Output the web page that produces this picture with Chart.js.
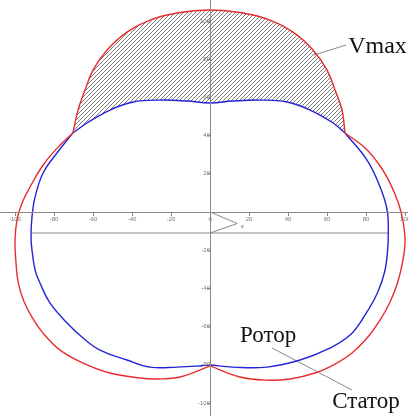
<!DOCTYPE html>
<html>
<head>
<meta charset="utf-8">
<script src="https://cdn.jsdelivr.net/npm/chart.js@4.4.0/dist/chart.umd.min.js"></script>
<style>
  html, body { margin:0; padding:0; background:#fff; }
  #wrap { position:relative; width:408px; height:416px; }
</style>
</head>
<body>
<div id="wrap"><canvas id="chartHodograph"></canvas></div>
<script>
// Годограф статора и ротора (x, y)
const statorTop = [
  [-70.3, 41.4], [-67.7, 53.4], [-64.1, 63.9], [-60, 74.3], [-52.8, 84.8], [-42.6, 94.2],
  [-30.8, 100.5], [-16.9, 104.2], [0, 105.8], [16.9, 104.2], [30.8, 100.5], [42.6, 94.2],
  [52.8, 84.8], [60, 74.3], [64.1, 63.9], [67.7, 53.4], [69.2, 41.4]
];
const statorRight = [
  [69.2, 41.4], [79.5, 33.5], [87.2, 24.1], [92.8, 14.1], [96.9, 3.7], [99, -5.2], [100, -15.7],
  [98.7, -26.2], [96.1, -37.2], [92.3, -47.1], [87.2, -56.5], [80.5, -66], [72.8, -73.8],
  [64.1, -79.6], [53.8, -84.3], [41, -87.4], [28.2, -88], [15.4, -86.4], [0, -80.6]
];
const statorLeft = [
  [0, -80.6], [-15.4, -86.4], [-27.2, -87.4], [-35.9, -86.9], [-51.3, -84.3], [-65.1, -79.1],
  [-76.9, -72.3], [-85.6, -63.4], [-91.3, -55], [-95.4, -46.8], [-98.3, -37.2], [-99.6, -25.1],
  [-100, -14.7], [-99, -4.2], [-96.4, 4.7], [-92.3, 13.1], [-85.6, 24.6], [-77.9, 34], [-70.3, 41.4]
];
const rotorTop = [
  [-70.3, 41.4], [-63.1, 46.6], [-51.3, 53.4], [-39.5, 57.6], [-25.6, 58.6], [-11.8, 58.1],
  [0, 57.1], [11.8, 58.1], [25.6, 58.6], [39.5, 57.6], [51.3, 53.4], [63.1, 46.6], [69.2, 41.4]
];
const rotorRight = [
  [69.2, 41.4], [80.5, 27.2], [87.2, 13.1], [90.8, 1], [91.4, -11], [91, -20.5], [89.5, -31.4],
  [85.8, -42.4], [79.5, -53.9], [71.8, -64.4], [60.5, -71.7], [46.2, -77.5], [29.2, -81.2],
  [11.8, -81.2], [0, -80.1]
];
const rotorLeft = [
  [0, -80.1], [-5.1, -80.6], [-16.9, -81.2], [-30.8, -81.2], [-42.6, -77.5], [-56.4, -72.3],
  [-65.1, -66], [-73.3, -58.1], [-82.1, -47.6], [-87.2, -37.2], [-89.7, -30.4], [-91.3, -19.9],
  [-91.8, -13.1], [-91.3, -2.6], [-89.7, 7.9], [-85.6, 20.4], [-78.5, 30.9], [-70.3, 41.4]
];
// эксцентриситет и линия центра ротора
const eccentricity = [[0, 0], [14, -6], [0, -11]];
const rotorChord = [[-91.8, -11], [91.4, -11]];
// выноски подписей
const leaderVmax = [[53.3, 82.2], [69.7, 87.4]];
const leaderRotor = [[31.8, -71.2], [72.8, -93.2]];
const tickValues = [-100, -80, -60, -40, -20, 0, 20, 40, 60, 80, 100];
const captions = [
  { text: 'Vmax', at: [70.8, 83.2] },
  { text: 'Ротор', at: [15.4, -68] },
  { text: 'Статор', at: [62.6, -102.6] }
];
const eLabel = { text: 'e', at: [15.9, -8.4] };

const pts = a => a.map(([x, y]) => ({ x, y }));

// штриховка области Vmax
function hatch() {
  const c = document.createElement('canvas');
  c.width = 4; c.height = 4;
  const g = c.getContext('2d');
  g.fillStyle = '#fff';
  g.fillRect(0, 0, 4, 4);
  g.strokeStyle = '#7c7c7c';
  g.lineWidth = 1;
  g.beginPath();
  g.moveTo(0, 4); g.lineTo(4, 0);
  g.moveTo(-1, 1); g.lineTo(1, -1);
  g.moveTo(3, 5); g.lineTo(5, 3);
  g.stroke();
  return g.createPattern(c, 'repeat');
}

const red = 'rgb(232,45,45)', blue = 'rgb(35,35,215)', grey = '#8a8a8a';
const curve = (data, color, extra) => Object.assign({
  data: pts(data), showLine: true, borderColor: color, borderWidth: 1.4,
  pointRadius: 0, tension: 0.4, fill: false
}, extra || {});

const captionsPlugin = {
  id: 'captions',
  afterDatasetsDraw(chart) {
    const { ctx, scales: { x, y } } = chart;
    ctx.save();
    ctx.fillStyle = '#111';
    ctx.textBaseline = 'alphabetic';
    ctx.textAlign = 'left';
    captions.forEach(c => {
      ctx.font = (c.text === 'Vmax' ? 24 : 23) + 'px "Liberation Serif", "DejaVu Serif", serif';
      ctx.fillText(c.text, x.getPixelForValue(c.at[0]), y.getPixelForValue(c.at[1]));
    });
    ctx.fillStyle = '#555';
    ctx.font = 'italic 7px "Liberation Serif", serif';
    ctx.fillText(eLabel.text, x.getPixelForValue(eLabel.at[0]), y.getPixelForValue(eLabel.at[1]));
    ctx.restore();
  }
};

// оси проходят через начало координат и рисуются поверх штриховки
const axisCommon = {
  type: 'linear',
  afterBuildTicks: s => { s.ticks = tickValues.map(v => ({ value: v })); },
  afterFit: s => { s.paddingTop = s.paddingBottom = s.paddingLeft = s.paddingRight = 0; },
  border: { display: true, color: grey, width: 1, z: 1 },
  grid: { drawOnChartArea: false, drawTicks: true, tickLength: 3, color: grey, z: 1 }
};

new Chart(document.getElementById('chartHodograph'), {
  type: 'scatter',
  data: {
    datasets: [
      curve(statorTop, red, { fill: 1, backgroundColor: hatch() }),
      curve(rotorTop, blue),
      curve(statorRight, red),
      curve(statorLeft, red),
      curve(rotorRight, blue),
      curve(rotorLeft, blue),
      curve(eccentricity, grey, { borderWidth: 1, tension: 0 }),
      curve(rotorChord, grey, { borderWidth: 1, tension: 0 }),
      curve(leaderVmax, grey, { borderWidth: 1, tension: 0 }),
      curve(leaderRotor, grey, { borderWidth: 1, tension: 0 })
    ]
  },
  options: {
    responsive: true, maintainAspectRatio: false, animation: false,
    layout: { padding: 0 },
    plugins: {
      legend: { display: false },
      tooltip: { enabled: false },
      filler: { drawTime: 'beforeDatasetsDraw' }
    },
    scales: {
      x: Object.assign({}, axisCommon, {
        min: -107.7, max: 101.5, position: { y: 0 },
        ticks: { font: { size: 6 }, color: '#777', padding: 1, autoSkip: false, maxRotation: 0, z: 1 }
      }),
      y: Object.assign({}, axisCommon, {
        min: -106.8, max: 111, position: { x: 0 },
        ticks: { font: { size: 6 }, color: '#777', padding: 2, autoSkip: false, z: 1,
          callback: v => v === 0 ? '' : v }
      })
    }
  },
  plugins: [captionsPlugin]
});
</script>
</body>
</html>
